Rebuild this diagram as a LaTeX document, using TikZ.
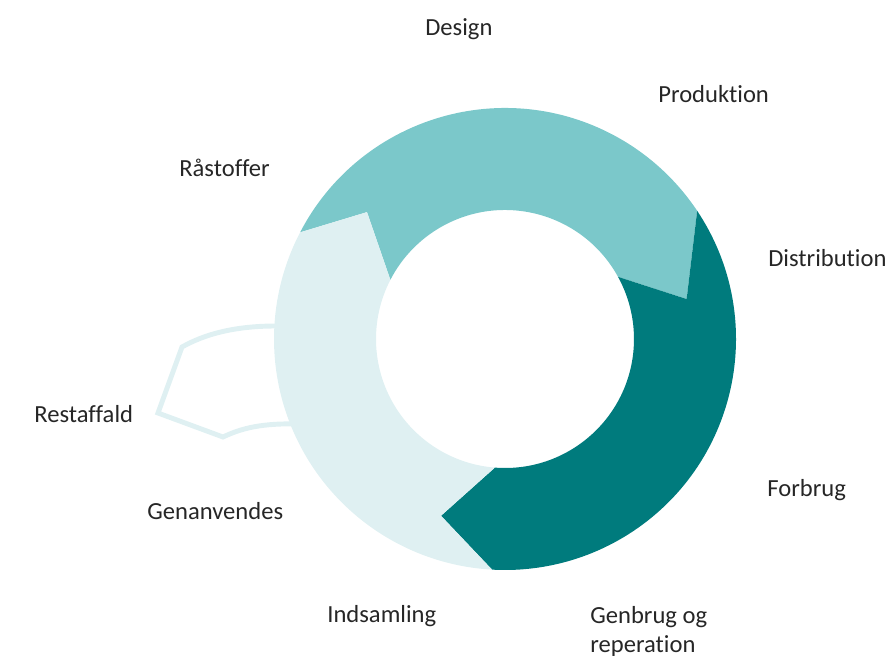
\documentclass[tikz,border=0pt]{standalone}
\usepackage{fontspec}
\setmainfont{Carlito}[Ligatures=NoCommon]
\usetikzlibrary{calc}
\definecolor{tealmid}{HTML}{7BC8CA}
\definecolor{tealdark}{HTML}{007B7D}
\definecolor{teallight}{HTML}{DFF0F2}
\tikzset{lbl/.style={anchor=base west, inner sep=0pt, align=left, text=black!85, font=\fontsize{14}{16}\selectfont}}

\begin{document}
\begin{tikzpicture}[x=0.02cm, y=0.02cm]

    \useasboundingbox (0,0) rectangle (887,657);
    \coordinate (c) at (505,318);

    % Restaffald loop
    \draw[teallight, line width=2.8pt] (290,331) -- (276,331) .. controls (235,331) and (205,323) .. (182,310) -- (158,244) -- (223,220) .. controls (242,229) and (262,234) .. (300,233);

    % Top segment
    \fill[tealmid] ($(c)+(152.5:231)$) arc[start angle=152.5, end angle=33.7, radius=231] -- ($(c)+(12.4:186)$) -- ($(c)+(28.8:129)$) arc[start angle=28.8, end angle=152.7, radius=129] -- ($(c)+(137.4:187.5)$) -- cycle;

    % Right segment
    \fill[tealdark] ($(c)+(33.7:231)$) arc[start angle=33.7, end angle=-93.2, radius=231] -- ($(c)+(-109.9:188)$) -- ($(c)+(-94.5:129)$) arc[start angle=-94.5, end angle=28.8, radius=129] -- ($(c)+(12.4:186)$) -- cycle;

    % Left segment
    \fill[teallight] ($(c)+(-93.2:231)$) arc[start angle=-93.2, end angle=-207.5, radius=231] -- ($(c)+(-222.6:187.5)$) -- ($(c)+(-207.3:129)$) arc[start angle=-207.3, end angle=-94.5, radius=129] -- ($(c)+(-109.9:188)$) -- cycle;

    % Labels
    \node[lbl] (design) at (425,621) {Design};
    \node[lbl] (produktion) at (658,554) {Produktion};
    \node[lbl] (raastoffer) at (179,480) {Råstoffer};
    \node[lbl] (distribution) at (768,390) {Distribution};
    \node[lbl] (restaffald) at (34,235) {Restaffald};
    \node[lbl] (forbrug) at (767,161) {Forbrug};
    \node[lbl] (genanvendes) at (147,137) {Genanvendes};
    \node[lbl] (indsamling) at (327,35) {Indsamling};
    \node[lbl] (genbrug) at (590,5) {Genbrug og\\reperation};

\end{tikzpicture}
\end{document}
